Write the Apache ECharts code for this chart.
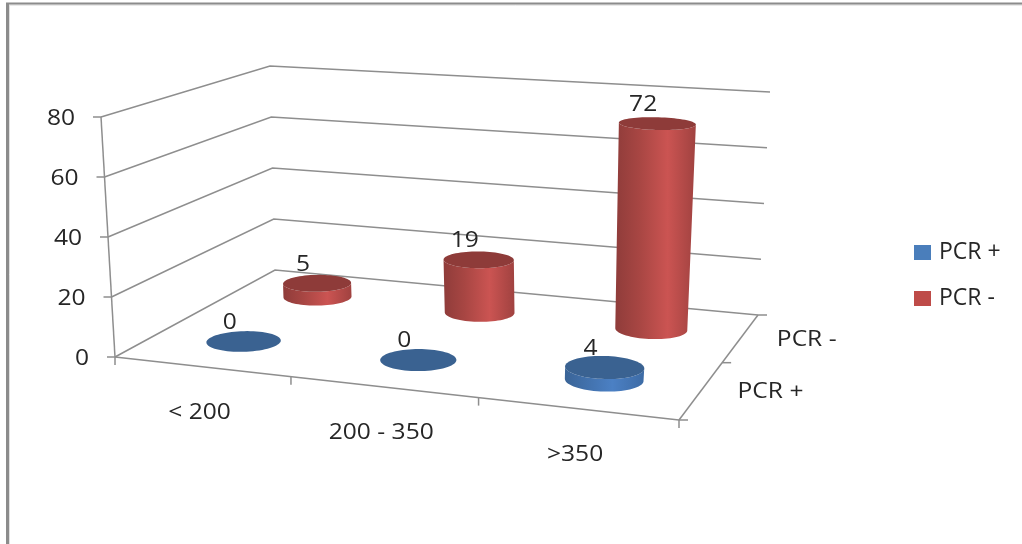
<!DOCTYPE html>
<html>
<head>
<meta charset="utf-8">
<style>html,body{margin:0;padding:0;background:#fff}#chart{width:1022px;height:544px}</style>
<script src="https://cdn.jsdelivr.net/npm/echarts@6/dist/echarts.min.js"></script>
</head>
<body>
<div id="chart"></div>
<script>
// Chart values
const categories = ['< 200', '200 - 350', '>350'];
const depthNames = ['PCR +', 'PCR -'];
const pcrPlus = [0, 0, 4];
const pcrMinus = [5, 19, 72];
const valueTicks = [0, 20, 40, 60, 80];

const FONT = '"Open Sans", sans-serif';
const TEXT = '#262626';
const LINE = '#8e8e8e';

// Corners of the floor and ceiling of the oblique box: front-left, front-right, back-right, back-left
const FLOOR = [[115, 357], [679, 420], [758, 315], [275, 270]];
const CEIL = [[101, 117], [704, 160], [770, 92], [270, 66]];

// Unit square to quadrilateral homography
function homography(q) {
  const [p0, p1, p2, p3] = q;
  const sx = p0[0] - p1[0] + p2[0] - p3[0], sy = p0[1] - p1[1] + p2[1] - p3[1];
  const dx1 = p1[0] - p2[0], dx2 = p3[0] - p2[0], dy1 = p1[1] - p2[1], dy2 = p3[1] - p2[1];
  const den = dx1 * dy2 - dx2 * dy1;
  const g = (sx * dy2 - dx2 * sy) / den, h = (dx1 * sy - sx * dy1) / den;
  const a = p1[0] - p0[0] + g * p1[0], b = p3[0] - p0[0] + h * p3[0];
  const d = p1[1] - p0[1] + g * p1[1], e = p3[1] - p0[1] + h * p3[1];
  return (u, v) => {
    const k = 1 + g * u + h * v;
    return [(a * u + b * v + p0[0]) / k, (d * u + e * v + p0[1]) / k];
  };
}
const floorAt = homography(FLOOR), ceilAt = homography(CEIL);

// u: along categories, v: into the depth, w: up the value range (all 0..1)
function project(u, v, w) {
  const f = floorAt(u, v), c = ceilAt(u, v);
  return [f[0] + (c[0] - f[0]) * w, f[1] + (c[1] - f[1]) * w];
}

// Reads the hidden cartesian axes and returns normalised box coordinates
function boxCoord(params, api, cat, value) {
  const cs = params.coordSys;
  const p = api.coord([cat, value]);
  return { u: (p[0] - cs.x) / cs.width, w: 1 - (p[1] - cs.y) / cs.height };
}

const lineStyle = { stroke: LINE, lineWidth: 1.5, fill: null };
const polyline = pts => ({ type: 'polyline', silent: true, shape: { points: pts }, style: lineStyle });

// Chart text runs a little wider than the face's natural proportions
const TEXT_STRETCH = 1.17;
const label = (text, x, y, align) => ({
  type: 'text', silent: true, x, y, scaleX: TEXT_STRETCH, scaleY: 1,
  style: { text, x: 0, y: 0, align, verticalAlign: 'middle', fill: TEXT, font: `21px ${FONT}` }
});

const RU = 0.066, RV = 0.1, STEPS = 72;

function ring(u, v, w) {
  const pts = [];
  for (let i = 0; i < STEPS; i++) {
    const t = (i / STEPS) * Math.PI * 2;
    pts.push(project(u + RU * Math.cos(t), v + RV * Math.sin(t), w));
  }
  return pts;
}

// Visible front half of a ring, walking from one horizontal extreme to the other
function frontArc(pts, fromLeft) {
  let l = 0, r = 0;
  pts.forEach((p, i) => { if (p[0] < pts[l][0]) l = i; if (p[0] > pts[r][0]) r = i; });
  const walk = (a, b, step) => {
    const out = [];
    for (let i = a; ; i = (i + step + STEPS) % STEPS) { out.push(pts[i]); if (i === b) break; }
    return out;
  };
  let arc = walk(l, r, 1);
  const alt = walk(l, r, -1);
  if (alt[alt.length >> 1][1] > arc[arc.length >> 1][1]) arc = alt;
  return fromLeft ? arc : arc.slice().reverse();
}

function cylinderRenderer(depthIndex, capColor, sideStops) {
  const v = (depthIndex + 0.5) / depthNames.length;
  return function (params, api) {
    const value = api.value(1);
    const base = boxCoord(params, api, api.value(0), 0);
    const head = boxCoord(params, api, api.value(0), value);
    const top = ring(base.u, v, head.w);
    const children = [];
    if (value > 0) {
      const bottom = ring(base.u, v, 0);
      children.push({
        type: 'polygon', silent: true,
        shape: { points: frontArc(bottom, true).concat(frontArc(top, false)) },
        style: { fill: { type: 'linear', x: 0, y: 0, x2: 1, y2: 0, colorStops: sideStops } }
      });
    }
    children.push({ type: 'polygon', silent: true, shape: { points: top }, style: { fill: capColor } });
    const c = project(base.u, v, head.w);
    children.push(label(String(value), c[0] - 14, c[1] - 18.5, 'center'));
    return { type: 'group', children };
  };
}

// Back walls, gridlines and the value axis
function renderValueAxis(params, api) {
  const w = boxCoord(params, api, 0, api.value(0)).w;
  const front = project(0, 0, w);
  const children = [
    polyline([front, project(0, 1, w), project(1, 1, w)]),
    polyline([[front[0] - 8, front[1]], front]),
    label(String(api.value(0)), front[0] - 26, front[1] + 2, 'right')
  ];
  if (params.dataIndex === 0) {
    children.push(polyline([project(0, 0, 0), project(0, 0, 1)]));
    children.push(polyline([project(0, 0, 0), project(1, 0, 0)]));
    children.push(polyline([project(1, 0, 0), project(1, 1, 0)]));
    [0, 1 / 3, 2 / 3, 1].forEach(u => {
      const p = project(u, 0, 0);
      children.push(polyline([p, [p[0], p[1] + 8]]));
    });
    [0, 0.5, 1].forEach(d => {
      const p = project(1, d, 0);
      children.push(polyline([p, [p[0] + 9, p[1]]]));
    });
  }
  return { type: 'group', children };
}

function renderCategoryLabels(params, api) {
  const u = boxCoord(params, api, api.value(0), 0).u;
  const p = project(u, 0, 0);
  return label(categories[api.value(0)], p[0] - 2, p[1] + 46.5, 'center');
}

function renderDepthLabels(params, api) {
  const p = project(1, (api.value(0) + 0.5) / depthNames.length, 0);
  return label(depthNames[api.value(0)], p[0] + 36, p[1] + 2, 'left');
}

const redStops = [
  { offset: 0, color: '#8f3c3a' }, { offset: 0.3, color: '#a84643' },
  { offset: 0.65, color: '#cb5452' }, { offset: 1, color: '#a04240' }
];
const blueStops = [
  { offset: 0, color: '#3a6497' }, { offset: 0.6, color: '#4b80c4' }, { offset: 1, color: '#3d6ba5' }
];

const toRows = values => values.map((val, i) => [i, val]);

const chart = echarts.init(document.getElementById('chart'), null, { renderer: 'canvas' });
chart.setOption({
  animation: false,
  backgroundColor: '#ffffff',
  grid: { left: 0, right: 0, top: 0, bottom: 0 },
  xAxis: { type: 'category', data: categories, show: false },
  yAxis: { type: 'value', min: 0, max: 80, interval: 20, show: false },
  legend: {
    data: depthNames,
    orient: 'vertical',
    left: 909,
    top: 236,
    icon: 'rect',
    itemWidth: 17,
    itemHeight: 15,
    itemGap: 23,
    textStyle: { fontFamily: FONT, fontSize: 23, color: TEXT, padding: [0, 0, 0, 3] },
    selectedMode: false
  },
  graphic: [
    { type: 'line', silent: true, shape: { x1: 9, y1: 5, x2: 1022, y2: 5 }, style: { stroke: '#d4d4d4', lineWidth: 1 } },
    { type: 'line', silent: true, shape: { x1: 9.5, y1: 5, x2: 9.5, y2: 544 }, style: { stroke: '#e0e0e0', lineWidth: 1 } },
    { type: 'line', silent: true, shape: { x1: 6, y1: 3.5, x2: 1022, y2: 3.5 }, style: { stroke: '#8c8c8c', lineWidth: 2 } },
    { type: 'line', silent: true, shape: { x1: 7.5, y1: 3, x2: 7.5, y2: 544 }, style: { stroke: '#8c8c8c', lineWidth: 3 } }
  ],
  series: [
    { type: 'custom', name: 'valueAxis', data: valueTicks.map(t => [t, t]), renderItem: renderValueAxis, encode: { x: -1, y: 1 }, silent: true, z: 1 },
    { type: 'custom', name: 'categoryLabels', data: categories.map((c, i) => [i, 0]), renderItem: renderCategoryLabels, silent: true, z: 1 },
    { type: 'custom', name: 'depthLabels', data: depthNames.map((c, i) => [i, 0]), renderItem: renderDepthLabels, silent: true, z: 1 },
    { type: 'custom', name: depthNames[1], data: toRows(pcrMinus), encode: { x: 0, y: 1 }, renderItem: cylinderRenderer(1, '#8e3b39', redStops), itemStyle: { color: '#be4b48' }, silent: true, z: 2 },
    { type: 'custom', name: depthNames[0], data: toRows(pcrPlus), encode: { x: 0, y: 1 }, renderItem: cylinderRenderer(0, '#3a6291', blueStops), itemStyle: { color: '#4a7ebb' }, silent: true, z: 3 }
  ]
});
</script>
</body>
</html>
